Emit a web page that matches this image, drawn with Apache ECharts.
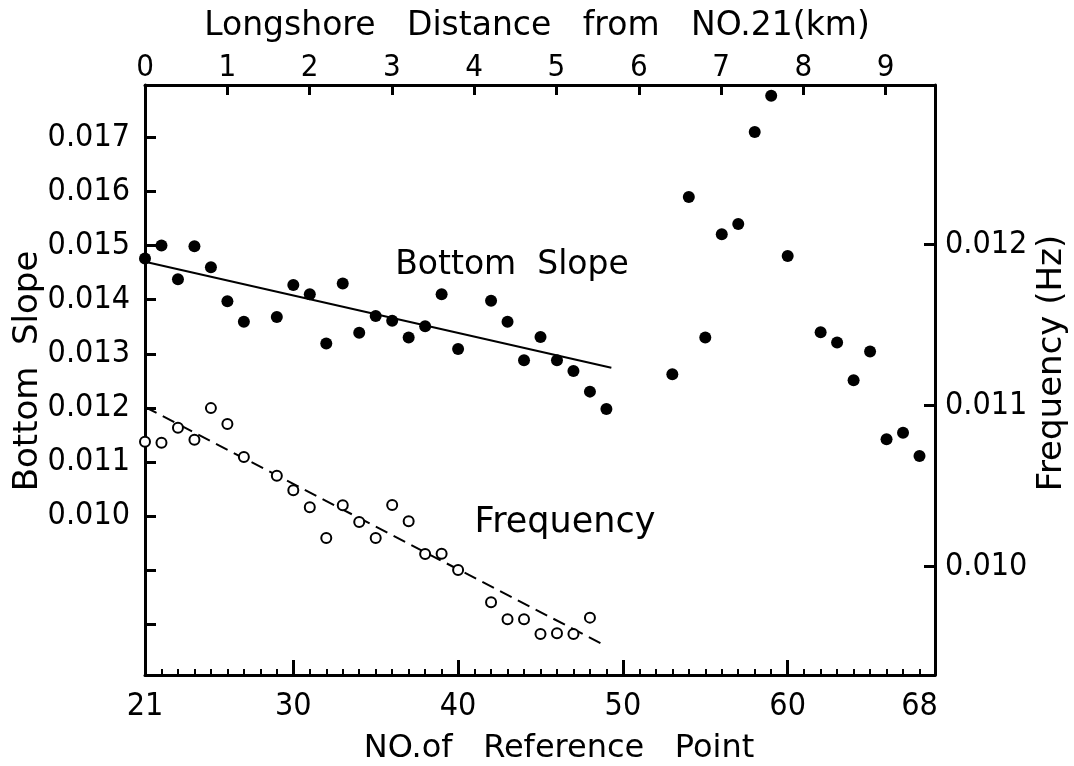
<!DOCTYPE html>
<html>
<head>
<meta charset="utf-8">
<script src="https://cdn.jsdelivr.net/npm/echarts@6/dist/echarts.min.js"></script>
<style>
html,body{margin:0;padding:0;background:#fff;}
#chart{width:1074px;height:766px;}
</style>
</head>
<body>
<div id="chart"></div>
<script>
// Bottom slope (filled dots)
const slopeNo  = [21,22,23,24,25,26,27,29,30,31,32,33,34,35,36,37,38,39,40,42,43,44,45,46,47,48,49,
                  53,54,55,56,57,58,59,60,62,63,64,65,66,67,68];
const slopeVal = [0.01476,0.01500,0.01438,0.01499,0.01460,0.01397,0.01359,0.01368,0.01427,0.01410,0.01319,0.01430,0.01339,0.01370,0.01361,0.01330,0.01351,0.01410,0.01309,0.01398,0.01359,0.01288,0.01331,0.01288,0.01268,0.01230,0.01198,
                  0.01262,0.01590,0.01330,0.01521,0.01540,0.01710,0.01777,0.01481,0.01340,0.01321,0.01251,0.01304,0.01142,0.01154,0.01111];
// Frequency (open circles, Hz)
const freqNo  = [21,22,23,24,25,26,27,29,30,31,32,33,34,35,36,37,38,39,40,42,43,44,45,46,47,48];
const freqVal = [0.010774,0.010768,0.010861,0.010787,0.010983,0.010884,0.010679,0.010563,0.010473,0.010368,0.010177,0.010380,0.010277,0.010177,0.010382,0.010281,0.010078,0.010080,0.009978,0.009779,0.009673,0.009673,0.009582,0.009586,0.009582,0.009683];
// Regression lines (end points)
const slopeFitNo = [21, 49.3];
const slopeFitVal = [0.01470, 0.01274];
const freqFitNo = [21, 48.97];
const freqFitVal = [0.01099, 0.009507];
// Tick labels
const bottomLabels = [21,30,40,50,60,68];
const bottomMajor = [30,40,50,60];
const bottomMinor = [22,23,24,25,26,27,28,29,31,32,33,34,35,36,37,38,39,41,42,43,44,45,46,47,48,49,51,52,53,54,55,56,57,58,59,61,62,63,64,65,66,67,68];
const kmTicks = [0,1,2,3,4,5,6,7,8,9];
const slopeTicks = [0.008,0.009,0.010,0.011,0.012,0.013,0.014,0.015,0.016,0.017];
const slopeLabels = [0.010,0.011,0.012,0.013,0.014,0.015,0.016,0.017];
const freqTicks = [0.010,0.011,0.012];
// Texts
const topTitle = 'Longshore   Distance   from   NO.21(km)';
const bottomTitle = 'NO.of   Reference   Point';
const leftTitle = 'Bottom  Slope';
const rightTitle = 'Frequency (Hz)';
const slopeText = 'Bottom  Slope';
const freqText = 'Frequency';

const NUMFONT = '"Liberation Sans Narrow", "DejaVu Sans Condensed", sans-serif';
const TXT = '"DejaVu Sans", sans-serif';

const zip = (a,b) => a.map((v,i)=>[v,b[i]]);

const chart = echarts.init(document.getElementById('chart'), null, {renderer:'canvas'});
const axLine = {show:true, onZero:false, lineStyle:{color:'#000', width:3}};
const txt = (text, x, y, size, rot) => ({type:'text', x:x, y:y, rotation:rot||0, z:10,
  style:{text:text, font:size+'px '+TXT, fill:'#000', align:'center', verticalAlign:'middle',
         textAlign:'center', textVerticalAlign:'middle'}});
chart.setOption({
  backgroundColor:'#fff',
  animation:false,
  grid:{left:145, right:139, top:85, bottom:91, containLabel:false, outerBoundsMode:'none'},
  xAxis:[
    {type:'value', position:'bottom', min:21, max:68.94,
     axisLine:axLine,
     axisTick:{show:true, inside:true, length:6, customValues:bottomMinor, lineStyle:{color:'#000', width:2}},
     axisLabel:{show:true, customValues:bottomLabels, margin:16, fontFamily:NUMFONT, fontSize:32, color:'#000'},
     splitLine:{show:false}},
    {type:'value', position:'bottom', min:21, max:68.94,
     axisLine:{show:false, onZero:false},
     axisTick:{show:true, inside:true, length:15, customValues:bottomMajor, lineStyle:{color:'#000', width:3}},
     axisLabel:{show:false}, splitLine:{show:false}},
    {type:'value', position:'top', min:0, max:9.6,
     axisLine:axLine,
     axisTick:{show:true, inside:true, length:10, customValues:kmTicks, lineStyle:{color:'#000', width:3}},
     axisLabel:{show:true, customValues:kmTicks, margin:2, fontFamily:NUMFONT, fontSize:31, color:'#000'},
     splitLine:{show:false}}
  ],
  yAxis:[
    {type:'value', position:'left', min:0.00706, max:0.01797,
     axisLine:axLine,
     axisTick:{show:true, inside:true, length:11, customValues:slopeTicks, lineStyle:{color:'#000', width:3}},
     axisLabel:{show:true, customValues:slopeLabels, margin:15, fontFamily:NUMFONT, fontSize:32, color:'#000',
                formatter:v=>v.toFixed(3)},
     splitLine:{show:false}},
    {type:'value', position:'right', min:0.009327, max:0.012988,
     axisLine:axLine,
     axisTick:{show:true, inside:true, length:11, customValues:freqTicks, lineStyle:{color:'#000', width:3}},
     axisLabel:{show:true, customValues:freqTicks, margin:10, fontFamily:NUMFONT, fontSize:32, color:'#000',
                formatter:v=>v.toFixed(3)},
     splitLine:{show:false}}
  ],
  graphic:[
    txt(topTitle, 537, 26, 33),
    txt(bottomTitle, 559, 749, 32),
    txt(leftTitle, 28, 371, 34, Math.PI/2),
    txt(rightTitle, 1052, 363, 34, Math.PI/2),
    txt(slopeText, 512, 265, 33),
    txt(freqText, 565, 523, 35)
  ],
  series:[
    {name:'Bottom Slope', type:'scatter', xAxisIndex:0, yAxisIndex:0, symbol:'circle', symbolSize:12,
     itemStyle:{color:'#000', opacity:1}, data:zip(slopeNo, slopeVal), z:5},
    {name:'Frequency', type:'scatter', xAxisIndex:0, yAxisIndex:1, symbol:'circle', symbolSize:10,
     itemStyle:{color:'#fff', borderColor:'#000', borderWidth:2, opacity:1}, data:zip(freqNo, freqVal), z:5},
    {name:'Slope fit', type:'line', xAxisIndex:0, yAxisIndex:0, symbol:'none',
     lineStyle:{color:'#000', width:2}, data:zip(slopeFitNo, slopeFitVal), z:3},
    {name:'Freq fit', type:'line', xAxisIndex:0, yAxisIndex:1, symbol:'none',
     lineStyle:{color:'#000', width:2, type:[13,7]}, data:zip(freqFitNo, freqFitVal), z:3}
  ]
});
</script>
</body>
</html>
